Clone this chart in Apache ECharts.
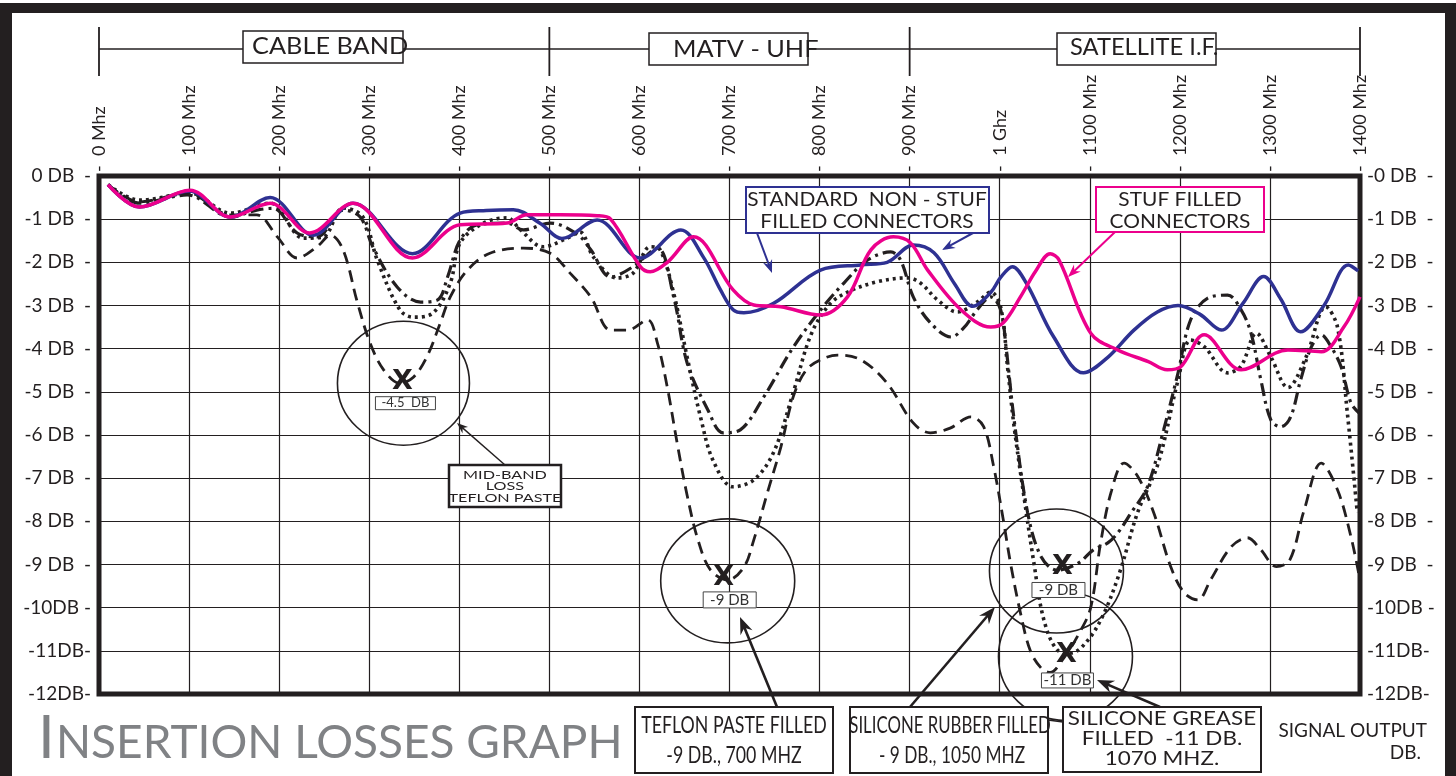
<!DOCTYPE html>
<html>
<head>
<meta charset="utf-8">
<script src="https://cdn.jsdelivr.net/npm/echarts/dist/echarts.min.js"></script>
<style>
html, body { margin: 0; padding: 0; background: #fff; }
#container { width: 1456px; height: 776px; }
</style>
</head>
<body>
<div id="container"></div>
<script>
var dom = document.getElementById("container");
var myChart = echarts.init(dom);
var option = null;

// axis texts
var xTickLabels = ['0 Mhz', '100 Mhz', '200 Mhz', '300 Mhz', '400 Mhz', '500 Mhz', '600 Mhz', '700 Mhz',
    '800 Mhz', '900 Mhz', '1 Ghz', '1100 Mhz', '1200 Mhz', '1300 Mhz', '1400 Mhz'];
var leftDbLabels = ['0 DB  -', '-1 DB  -', '-2 DB  -', '-3 DB  -', '-4 DB  -', '-5 DB  -', '-6 DB  -',
    '-7 DB  -', '-8 DB  -', '-9 DB  -', '-10DB -', '-11DB-', '-12DB-'];
var rightDbLabels = ['-0 DB  -', '-1 DB  -', '-2 DB  -', '-3 DB  -', '-4 DB  -', '-5 DB  -', '-6 DB  -',
    '-7 DB  -', '-8 DB  -', '-9 DB  -', '-10DB -', '-11DB-', '-12DB-'];
var bandNames = ['CABLE BAND', 'MATV - UHF', 'SATELLITE I.F.'];
var bandEdges = [0, 500, 900, 1400];

// standard non-stuf filled connectors (blue)
var standardFreq = [10, 45, 100, 146, 190, 238, 282, 348, 401, 430, 460, 490, 514, 553, 601, 646, 671, 690, 704, 716,
    749, 801, 846, 875, 904, 927, 950, 970, 990, 1001, 1014, 1030, 1060, 1093, 1120, 1149, 1175, 1198, 1222, 1246,
    1270, 1293, 1312, 1334, 1360, 1387, 1398];
var standardDb = [-0.2, -0.72, -0.35, -0.95, -0.5, -1.37, -0.63, -1.8, -0.86, -0.8, -0.78, -1.1, -1.45, -1.02, -1.9, -1.25, -1.88, -2.64, -3.1, -3.17,
    -2.95, -2.18, -2.06, -2.0, -1.6, -1.78, -2.5, -3.02, -2.7, -2.35, -2.1, -2.5, -3.73, -4.56, -4.2, -3.57, -3.15, -3.0, -3.2, -3.57,
    -2.95, -2.33, -2.85, -3.61, -3.0, -2.06, -2.2];

// stuf filled connectors (magenta)
var stufFreq = [10, 45, 101, 146, 190, 234, 282, 348, 401, 453, 475, 512, 553, 568, 601, 612, 631, 660, 704, 727,
    757, 801, 831, 857, 882, 901, 920, 957, 990, 1004, 1023, 1040, 1056, 1066, 1101, 1131, 1165, 1186, 1201, 1227,
    1268, 1320, 1357, 1382, 1400];
var stufDb = [-0.2, -0.72, -0.33, -0.95, -0.63, -1.32, -0.63, -1.9, -1.13, -1.09, -0.9, -0.9, -0.92, -1.0, -2.1, -2.22, -2.0, -1.41, -2.64, -2.99,
    -3.03, -3.22, -2.8, -1.71, -1.41, -1.55, -2.18, -3.1, -3.5, -3.4, -2.8, -2.2, -1.8, -1.95, -3.64, -4.03, -4.3, -4.49, -4.42, -3.68,
    -4.49, -4.03, -4.07, -3.5, -2.8];

// silicone grease filled (dotted)
var greaseFreq = [10, 45, 101, 146, 190, 227, 249, 271, 293, 309, 334, 349, 371, 390, 401, 427, 453, 468, 493, 520,
    534, 549, 575, 593, 612, 623, 638, 653, 668, 682, 704, 727, 749, 771, 790, 810, 830, 864, 898, 912,
    931, 953, 975, 990, 1001, 1009, 1016, 1027, 1038, 1049, 1064, 1079, 1098, 1116, 1134, 1153, 1176, 1198, 1212, 1227,
    1253, 1268, 1285, 1301, 1320, 1340, 1362, 1375, 1386, 1397];
var greaseDb = [-0.2, -0.56, -0.4, -0.86, -0.63, -1.44, -1.41, -0.74, -0.95, -1.95, -3.1, -3.27, -3.17, -2.48, -1.55, -1.09, -0.97, -1.25, -1.64, -1.44,
    -1.3, -1.88, -2.36, -2.25, -1.64, -1.71, -2.71, -4.2, -5.6, -6.6, -7.2, -7.04, -6.4, -5.0, -3.7, -3.0, -2.7, -2.45, -2.36, -2.48,
    -2.87, -3.15, -2.92, -2.69, -3.03, -4.49, -5.81, -7.44, -8.97, -10.28, -10.98, -11.05, -10.75, -10.12, -9.13, -7.8, -6.65, -4.73, -3.8, -3.95,
    -4.56, -4.4, -3.64, -4.19, -4.9, -4.2, -3.03, -3.5, -5.5, -7.8];

// silicone rubber filled (dash-dot)
var rubberFreq = [10, 45, 98, 146, 175, 193, 220, 242, 271, 290, 304, 331, 357, 376, 387, 401, 420, 453, 471, 501,
    531, 546, 568, 593, 620, 638, 653, 676, 693, 712, 738, 771, 804, 827, 853, 879, 890, 904, 923, 946,
    960, 975, 990, 1001, 1007, 1016, 1031, 1046, 1064, 1087, 1104, 1120, 1131, 1146, 1164, 1182, 1198, 1212, 1231, 1253,
    1268, 1279, 1290, 1301, 1312, 1323, 1334, 1346, 1357, 1368, 1379, 1390, 1399];
var rubberDb = [-0.2, -0.63, -0.44, -0.95, -0.79, -0.75, -1.32, -1.41, -0.79, -0.95, -1.64, -2.57, -2.92, -2.87, -2.34, -1.48, -1.13, -1.09, -1.25, -1.09,
    -1.35, -1.71, -2.34, -2.1, -1.67, -2.8, -4.33, -5.42, -5.95, -5.88, -5.12, -3.96, -3.03, -2.48, -1.95, -1.76, -1.95, -2.8, -3.4, -3.73,
    -3.52, -3.1, -2.8, -3.1, -3.96, -5.65, -7.8, -8.82, -9.13, -8.97, -8.66, -8.5, -8.27, -7.8, -7.2, -5.88, -4.56, -3.33, -2.83, -2.76,
    -3.1, -3.64, -4.73, -5.65, -5.81, -5.58, -4.73, -3.96, -3.68, -3.96, -4.42, -5.26, -5.49];

// teflon paste filled (dashed)
var teflonFreq = [10, 45, 98, 146, 175, 198, 220, 242, 257, 271, 287, 301, 316, 334, 349, 364, 379, 390, 409, 434,
    471, 501, 523, 546, 568, 587, 609, 620, 631, 642, 653, 665, 679, 698, 716, 727, 742, 757, 771, 785,
    801, 820, 846, 875, 904, 923, 945, 968, 982, 993, 1004, 1012, 1023, 1034, 1046, 1056, 1070, 1088, 1101, 1112,
    1124, 1138, 1153, 1171, 1190, 1205, 1220, 1234, 1257, 1275, 1290, 1307, 1322, 1338, 1357, 1375, 1390, 1400];
var teflonDb = [-0.2, -0.6, -0.4, -0.9, -0.9, -1.41, -1.9, -1.64, -1.37, -1.71, -2.94, -3.87, -4.49, -4.8, -4.66, -4.19, -3.4, -2.8, -2.18, -1.79,
    -1.67, -1.79, -2.25, -2.8, -3.57, -3.57, -3.33, -3.87, -4.9, -6.2, -7.4, -8.43, -9.13, -9.36, -9.06, -8.43, -7.34, -6.28, -5.1, -4.5,
    -4.26, -4.15, -4.26, -4.8, -5.72, -5.95, -5.84, -5.58, -5.8, -6.7, -7.97, -8.97, -10.12, -11.0, -11.4, -11.5, -11.2, -10.6, -10.0, -8.5,
    -7.3, -6.65, -6.95, -7.8, -9.06, -9.66, -9.82, -9.36, -8.59, -8.38, -8.66, -9.05, -8.9, -7.74, -6.65, -7.27, -8.36, -9.36];

var INK = '#231f20';
var BLUE = '#2e3192';
var PINK = '#ec008c';
var FONT = 'Lato, "Noto Sans", sans-serif';

function pairs(f, d) {
    return f.map(function (v, i) { return [v, d[i]]; });
}

function curve(name, f, d, color, width, dash, z) {
    return {
        name: name,
        type: 'line',
        data: pairs(f, d),
        smooth: 0.35,
        symbol: 'none',
        z: z,
        lineStyle: { color: color, width: width, type: dash }
    };
}

option = {
    animation: false,
    backgroundColor: '#fff',
    grid: {
        left: 99, right: 96, top: 176, bottom: 82,
        show: true,
        borderColor: INK,
        borderWidth: 5
    },
    xAxis: {
        type: 'value',
        position: 'top',
        min: 0, max: 1400, interval: 100,
        axisLine: { show: false },
        axisTick: { show: false },
        axisLabel: {
            rotate: 90,
            margin: 4,
            color: INK,
            fontSize: 18,
            fontFamily: FONT,
            formatter: function (v) { return '-  ' + xTickLabels[Math.round(v / 100)]; }
        },
        splitLine: { show: true, lineStyle: { color: INK, width: 1.2 } }
    },
    yAxis: [{
        type: 'value',
        position: 'left',
        min: -12, max: 0, interval: 1,
        axisLine: { show: false },
        axisTick: { show: false },
        axisLabel: {
            margin: 8,
            color: INK,
            fontSize: 19,
            fontFamily: FONT,
            formatter: function (v) { return leftDbLabels[Math.round(-v)]; }
        },
        splitLine: { show: true, lineStyle: { color: INK, width: 1.2 } }
    }, {
        type: 'value',
        position: 'right',
        min: -12, max: 0, interval: 1,
        axisLine: { show: false },
        axisTick: { show: false },
        axisLabel: {
            margin: 7,
            color: INK,
            fontSize: 19,
            fontFamily: FONT,
            formatter: function (v) { return rightDbLabels[Math.round(-v)]; }
        },
        splitLine: { show: false }
    }],
    series: [
        curve('TEFLON PASTE FILLED', teflonFreq, teflonDb, INK, 2.8, [12, 7], 3),
        curve('SILICONE RUBBER FILLED', rubberFreq, rubberDb, INK, 3.2, [13, 5, 3, 5], 3),
        curve('SILICONE GREASE FILLED', greaseFreq, greaseDb, INK, 3.6, [3, 4], 3),
        curve('STANDARD NON-STUF', standardFreq, standardDb, BLUE, 3.5, 'solid', 4),
        curve('STUF FILLED', stufFreq, stufDb, PINK, 3.5, 'solid', 5)
    ]
};

if (option && typeof option === "object") {
    myChart.setOption(option, true);
}

// ---------- annotations ----------
function px(f) { return myChart.convertToPixel({ xAxisIndex: 0 }, f); }
function py(d) { return myChart.convertToPixel({ yAxisIndex: 0 }, d); }

function txt(s, x, y, size, o) {
    o = o || {};
    return {
        type: 'text', x: x, y: y, z: 130, scaleX: o.sx || 1,
        style: {
            text: s, fill: o.color || INK, fontSize: size, fontFamily: o.family || FONT,
            fontWeight: o.weight || 'normal', align: o.align || 'center', verticalAlign: 'middle'
        }
    };
}
function box(x, y, w, h, stroke, lw, z) {
    return {
        type: 'rect', z: z || 125, shape: { x: x, y: y, width: w, height: h },
        style: { fill: '#fff', stroke: stroke, lineWidth: lw }
    };
}
function seg(x1, y1, x2, y2, color, lw, z) {
    return {
        type: 'line', z: z || 120, shape: { x1: x1, y1: y1, x2: x2, y2: y2 },
        style: { stroke: color, lineWidth: lw }
    };
}
function arrow(x1, y1, x2, y2, color, lw, head) {
    var dx = x2 - x1, dy = y2 - y1, len = Math.sqrt(dx * dx + dy * dy);
    var ux = dx / len, uy = dy / len, nx = -uy, ny = ux;
    var bx = x2 - ux * head, by = y2 - uy * head;
    return [
        seg(x1, y1, x2 - ux * head * 0.5, y2 - uy * head * 0.5, color, lw, 128),
        {
            type: 'polygon', z: 128,
            shape: { points: [[x2, y2], [bx + nx * head * 0.38, by + ny * head * 0.38],
                [x2 - ux * head * 0.68, y2 - uy * head * 0.68], [bx - nx * head * 0.38, by - ny * head * 0.38]] },
            style: { fill: color }
        }
    ];
}

var g = [];

// outer frame
g.push({ type: 'rect', z: 140, shape: { x: 0, y: 3, width: 1456, height: 10 }, style: { fill: INK } });
g.push({ type: 'rect', z: 140, shape: { x: 0, y: 3, width: 12, height: 773 }, style: { fill: INK } });
g.push({ type: 'rect', z: 140, shape: { x: 1445, y: 3, width: 11, height: 773 }, style: { fill: INK } });

// band header
var edgeX = bandEdges.map(px);
g.push(seg(edgeX[0], 49, edgeX[3], 49, INK, 1.5));
edgeX.forEach(function (x) { g.push(seg(x, 27, x, 76, INK, 1.8)); });
var bandBoxes = [[243, 31, 160, 32, 252, 47, 1.1], [649, 33, 159, 32, 673, 50, 1.1], [1057, 33, 159, 32, 1070, 48, 1.03]];
bandBoxes.forEach(function (b, i) {
    g.push(box(b[0], b[1], b[2], b[3], INK, 1.5));
    g.push(txt(bandNames[i], b[4], b[5], 23, { align: 'left', sx: b[6] }));
});

// circled minima
var rings = [
    { f: 338, d: -4.8, rx: 66, ry: 62, xo: [-1, -1], lo: [2, 20], w: 60, h: 13, fs: 13, s: '-4.5  DB' },
    { f: 698, d: -9.38, rx: 67, ry: 62, xo: [-4, -3], lo: [2, 19], w: 53, h: 16, fs: 15, s: '-9 DB' },
    { f: 1063, d: -9.15, rx: 67, ry: 62, xo: [6, -4], lo: [2, 19], w: 53, h: 15, fs: 15, s: '-9 DB' },
    { f: 1073, d: -11.13, rx: 67, ry: 64, xo: [1, -1], lo: [2, 24], w: 52, h: 15, fs: 15, s: '-11 DB' }
];
rings.forEach(function (r) {
    var cx = px(r.f), cy = py(r.d);
    g.push({ type: 'ellipse', z: 110, shape: { cx: cx, cy: cy, rx: r.rx, ry: r.ry },
        style: { fill: null, stroke: INK, lineWidth: 1.6 } });
    g.push(txt('X', cx + r.xo[0], cy + r.xo[1], 27, { weight: 'bold', family: '"DejaVu Sans", sans-serif' }));
    var lx = cx + r.lo[0], ly = cy + r.lo[1];
    g.push(box(lx - r.w / 2, ly - r.h / 2, r.w, r.h, '#444', 1, 115));
    g.push(txt(r.s, lx, ly, r.fs, { color: '#333' }));
});

// legend boxes in the plot
g.push(box(746, 187, 243, 46, BLUE, 2));
g.push(txt('STANDARD  NON - STUF', 867, 200, 19, { sx: 1.1 }));
g.push(txt('FILLED CONNECTORS', 867, 222, 19, { sx: 1.1 }));
g.push(box(1096, 187, 168, 45, PINK, 2));
g.push(txt('STUF FILLED', 1180, 200, 19, { sx: 1.1 }));
g.push(txt('CONNECTORS', 1180, 222, 19, { sx: 1.1 }));

// mid-band note
g.push(box(449, 465, 112, 42, INK, 2.5));
g.push(txt('MID-BAND', 505, 475, 12, { sx: 1.35 }));
g.push(txt('LOSS', 505, 486, 12, { sx: 1.35 }));
g.push(txt('TEFLON PASTE', 505, 498, 12, { sx: 1.35 }));

// bottom notes
g.push(box(635, 707, 198, 66, INK, 2));
g.push(txt('TEFLON PASTE FILLED', 734, 725, 24, { sx: 0.74 }));
g.push(txt('-9 DB., 700 MHZ', 734, 755, 24, { sx: 0.74 }));
g.push(box(850, 707, 198, 66, INK, 2));
g.push(txt('SILICONE RUBBER FILLED', 950, 725, 24, { sx: 0.7 }));
g.push(txt('- 9 DB., 1050 MHZ', 952, 755, 24, { sx: 0.72 }));
g.push(seg(1048, 720, 1063, 722, INK, 1.5, 124));
g.push(box(1063, 707, 198, 65, INK, 2));
g.push(txt('SILICONE GREASE', 1162, 719, 19, { sx: 1.18 }));
g.push(txt('FILLED  -11 DB.', 1162, 739, 19, { sx: 1.18 }));
g.push(txt('1070 MHZ.', 1162, 759, 19, { sx: 1.18 }));
g.push(txt('SIGNAL OUTPUT', 1427, 731, 19, { align: 'right' }));
g.push(txt('DB.', 1421, 753, 19, { align: 'right' }));

// title
g.push(txt('I', 38, 739, 60, { align: 'left', color: '#808285' }));
g.push(txt('NSERTION LOSSES GRAPH', 56, 743, 46, { align: 'left', color: '#808285' }));

// arrows
g = g.concat(arrow(505, 465, 457, 423, INK, 1.4, 11));
g = g.concat(arrow(777, 707, 740, 617, INK, 2.6, 17));
g = g.concat(arrow(910, 707, 995, 607, INK, 2.6, 17));
g = g.concat(arrow(1160, 707, 1097, 680, INK, 2.6, 17));
g = g.concat(arrow(757, 233, 772, 273, BLUE, 2, 13));
g = g.concat(arrow(973, 233, 942, 250, BLUE, 2, 13));
g = g.concat(arrow(1115, 232, 1068, 277, PINK, 2, 13));

myChart.setOption({ graphic: { elements: g } });
</script>
</body>
</html>
